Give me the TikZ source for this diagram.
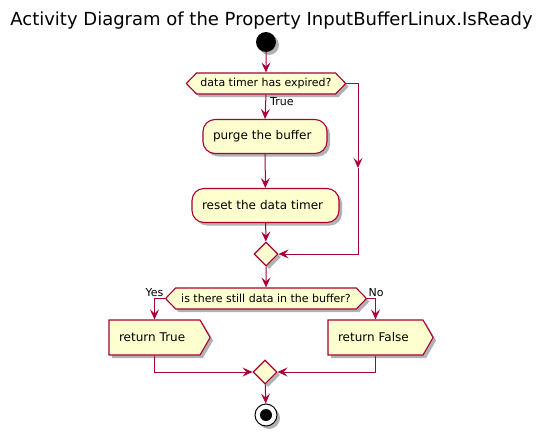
\documentclass[tikz,border=0pt]{standalone}
\usepackage{fontspec}
\setmainfont{DejaVu Sans}
\usetikzlibrary{arrows.meta,shapes.geometric,shapes.symbols,shadows}
\definecolor{plred}{HTML}{A80036}
\definecolor{plfill}{HTML}{FEFECE}
\begin{document}
\begin{tikzpicture}[x=1pt,y=-1pt,
 shad/.style={drop shadow={shadow xshift=3pt,shadow yshift=-3pt,opacity=0.3,fill=black}},
 act/.style={draw=plred,fill=plfill,line width=1.1pt,rounded corners=12pt,minimum height=34pt,inner xsep=10pt,inner ysep=0pt,align=left,font=\fontsize{12}{14}\selectfont,shad},
 dec/.style={shape=signal,signal to=east and west,signal pointer angle=92,draw=plred,fill=plfill,line width=1.1pt,inner ysep=0pt,minimum height=21pt,font=\fontsize{11}{13}\selectfont,shad},
 ret/.style={shape=signal,signal to=east,signal pointer angle=120,draw=plred,fill=plfill,line width=1.1pt,inner xsep=10pt,inner ysep=0pt,minimum height=35pt,align=left,font=\fontsize{12}{14}\selectfont,shad},
 mrg/.style={diamond,draw=plred,fill=plfill,line width=1.1pt,minimum size=24pt,inner sep=0pt,shad},
 arr/.style={draw=plred,line width=1pt,-{Stealth[length=10pt,width=9pt,inset=4pt]}},
 lbl/.style={font=\fontsize{11}{13}\selectfont,inner sep=1pt},
]
\useasboundingbox (0,0) rectangle (543,434);
\node[font=\fontsize{18}{21}\selectfont] (title) at (271.5,21) {Activity Diagram of the Property InputBufferLinux.IsReady};
\node[circle,fill=black,minimum size=20pt,inner sep=0pt,shad] (start) at (266,42) {};
\node[dec,inner xsep=4pt] (d1) at (266,83.5) {data timer has expired?};
\node[act,text width=104pt] (purge) at (265,136.5) {purge the buffer};
\node[act,text width=127pt] (reset) at (265.5,205.5) {reset the data timer};
\node[mrg] (m1) at (266,254) {};
\node[dec,inner xsep=5.5pt] (d2) at (266,298.5) {is there still data in the buffer?};
\node[ret,text width=71pt] (rtrue) at (154.5,337.5) {return True};
\node[ret,text width=75pt] (rfalse) at (375.5,337.5) {return False};
\node[mrg] (m2) at (265,372) {};
\node[circle,draw=black,fill=white,line width=1pt,minimum size=22pt,inner sep=0pt,shad] (end) at (266,415) {};
\node[circle,fill=black,minimum size=12pt,inner sep=0pt] (endin) at (end) {};
\coordinate (rt) at (358,83.5);
\coordinate (rm) at (358,168);
\coordinate (rb) at (358,254);
\draw[arr] (start) -- (d1);
\draw[arr] (d1.south) -- node[lbl,anchor=west,pos=0.27,xshift=3pt] {True} (purge.north);
\draw[arr] (purge) -- (reset);
\draw[arr] (reset) -- (m1);
\draw[arr] (d1.east) -- (rt) -- (rm);
\draw[arr] (rm) -- (rb) -- (m1.east);
\draw[arr] (m1) -- (d2);
\draw[arr] (d2.west) node[lbl,anchor=south east] {Yes} -| (rtrue.north);
\draw[arr] (d2.east) node[lbl,anchor=south west] {No} -| (rfalse.north);
\draw[arr] (rtrue.south) |- (m2.west);
\draw[arr] (rfalse.south) |- (m2.east);
\draw[arr] (m2) -- (end);
\end{tikzpicture}
\end{document}
